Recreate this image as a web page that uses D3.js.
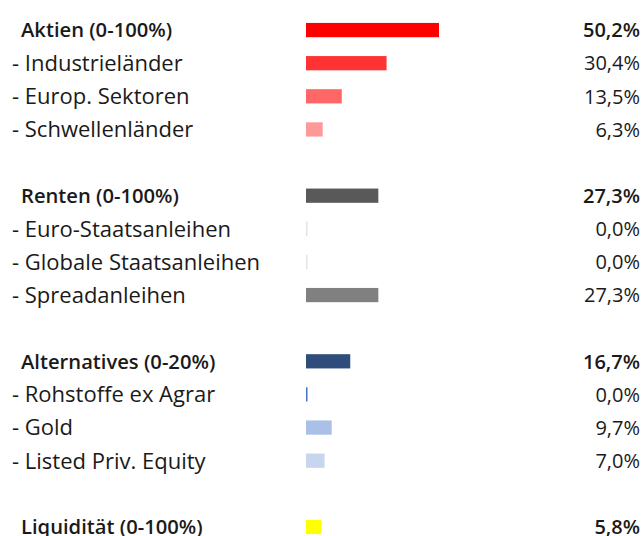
<!DOCTYPE html>
<head>
  <meta charset="utf-8">
  <script src="https://d3js.org/d3.v7.min.js"></script>
  <style>
    body { margin:0; background:#fff; }
  </style>
</head>
<body>
  <svg id="chart" width="644" height="536"></svg>
  <script>
    // rows, top to bottom; empty strings are the gaps between groups
    const labels = [
      "Aktien (0-100%)", "- Industrieländer", "- Europ. Sektoren", "- Schwellenländer", "",
      "Renten (0-100%)", "- Euro-Staatsanleihen", "- Globale Staatsanleihen", "- Spreadanleihen", "",
      "Alternatives (0-20%)", "- Rohstoffe ex Agrar", "- Gold", "- Listed Priv. Equity", "",
      "Liquidität (0-100%)"
    ];
    const values = [50.2, 30.4, 13.5, 6.3, null, 27.3, 0.0, 0.0, 27.3, null, 16.7, 0.0, 9.7, 7.0, null, 5.8];
    const isHeader = [1, 0, 0, 0, 0, 1, 0, 0, 0, 0, 1, 0, 0, 0, 0, 1];
    const colors = [
      "#ff0000", "#ff3333", "#ff6666", "#ff9999", null,
      "#595959", "#e3e3e3", "#e3e3e3", "#808080", null,
      "#2f4d7a", "#4472c4", "#aac0e6", "#c5d6ee", null,
      "#ffff00"
    ];

    const svg = d3.select("#chart");
    const rows = d3.range(labels.length);

    const y = d3.scaleBand().domain(rows).range([13.5, 543.5]).paddingInner(0.57).paddingOuter(0.285);
    const x = d3.scaleLinear().domain([0, 50.2]).range([306, 439]);

    const data = rows.filter(i => labels[i] !== "").map(i => ({
      i, label: labels[i], value: values[i], header: isHeader[i], color: colors[i]
    }));

    const fmt = v => d3.format(".1f")(v).replace(".", ",") + "%";

    const g = svg.append("g").style("font-family", "'Open Sans', 'Noto Sans', sans-serif");

    g.selectAll("rect")
      .data(data)
      .enter().append("rect")
      .attr("x", x(0))
      .attr("y", d => y(d.i))
      .attr("height", y.bandwidth())
      .attr("width", d => Math.max(x(d.value) - x(0), 1.5))
      .attr("fill", d => d.color);

    const center = d => y(d.i) + y.bandwidth() / 2;

    g.selectAll("text.label")
      .data(data)
      .enter().append("text")
      .attr("class", "label")
      .attr("x", d => d.header ? 21 : 12)
      .attr("y", center)
      .attr("dy", "0.36em")
      .style("font-size", d => d.header ? "20.2px" : "22px")
      .style("font-weight", d => d.header ? 600 : 400)
      .attr("fill", "#1a1a1a")
      .text(d => d.label);

    g.selectAll("text.value")
      .data(data)
      .enter().append("text")
      .attr("class", "value")
      .attr("x", 640)
      .attr("y", center)
      .attr("dy", "0.36em")
      .attr("text-anchor", "end")
      .style("font-size", "20px")
      .style("font-weight", d => d.header ? 600 : 400)
      .attr("fill", "#1a1a1a")
      .text(d => fmt(d.value));
  </script>
</body>
